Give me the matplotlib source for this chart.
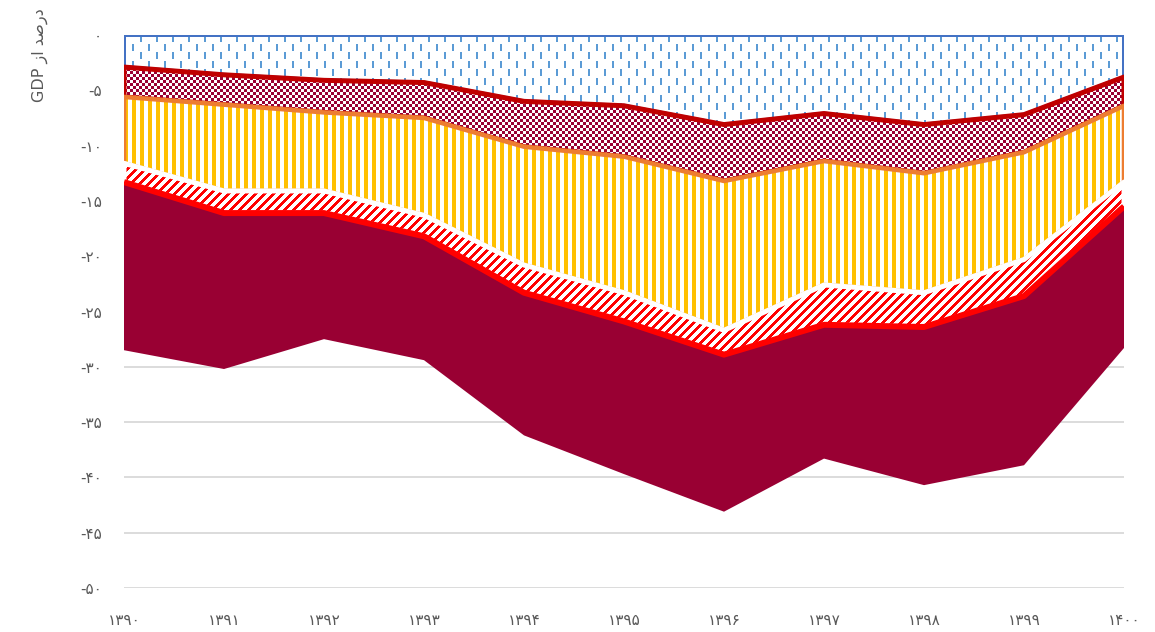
import numpy as np
import matplotlib
matplotlib.use("Agg")
import matplotlib.pyplot as plt

plt.rcParams['font.family'] = ['DejaVu Sans']

years = np.arange(1390, 1401)
year_labels = ['۱۳۹۰', '۱۳۹۱', '۱۳۹۲', '۱۳۹۳', '۱۳۹۴', '۱۳۹۵',
               '۱۳۹۶', '۱۳۹۷', '۱۳۹۸', '۱۳۹۹', '۱۴۰۰']
yticks = [0, -5, -10, -15, -20, -25, -30, -35, -40, -45, -50]
ytick_labels = ['۰', '-۵', '-۱۰', '-۱۵', '-۲۰', '-۲۵',
                '-۳۰', '-۳۵', '-۴۰', '-۴۵', '-۵۰']

# stacked series (share of GDP, negative), top layer first
s1 = [-2.9, -3.6, -4.1, -4.3, -6.0, -6.4, -8.1, -7.1, -8.1, -7.2, -3.8]
s2 = [-2.7, -2.7, -2.9, -3.2, -4.1, -4.6, -5.1, -4.3, -4.4, -3.4, -2.6]
s3 = [-6.0, -7.8, -7.1, -8.8, -10.7, -12.3, -13.5, -11.2, -10.8, -9.7, -6.9]
s4 = [-1.7, -2.0, -2.0, -1.9, -2.5, -2.6, -2.2, -3.6, -3.1, -3.3, -2.2]
s5 = [-15.2, -14.1, -11.4, -11.2, -12.9, -13.8, -14.2, -12.1, -14.3, -15.3, -12.8]

ylabel_text = 'GDP \u0632\u0627 \uFEAA\uFEBB\u0631\u062F'  # "درصد از GDP" in visual order

W, H = 1155, 632
fig = plt.figure(figsize=(W / 100, H / 100), dpi=100)
ax = fig.add_axes([124 / W, 44 / H, 1000 / W, 553 / H])
ax.set_xlim(1390, 1400)
ax.set_ylim(-50, 0)

# pixel textures like the excel pattern fills
AW, AH = 1000, 553
yy, xx = np.mgrid[0:AH, 0:AW]


def texture(mask, fg, bg='white'):
    img = np.ones((AH, AW, 4))
    img[:] = matplotlib.colors.to_rgba(bg)
    img[mask] = matplotlib.colors.to_rgba(fg)
    return img


dash_mask = (((xx % 16) < 2) & ((yy % 17) < 7)) | ((((xx - 8) % 16) < 2) & (((yy - 9) % 17) < 7))
check_mask = ((xx // 3) + (yy // 3)) % 2 == 0
vert_mask = (xx % 8) < 4
diag_mask = ((xx + yy) % 9) < 4

layers = [
    (s1, texture(dash_mask, '#5B9BD5'), '#4472C4', 4),
    (s2, texture(check_mask, '#990033'), '#C00000', 5),
    (s3, texture(vert_mask, '#FFC000'), '#ED7D31', 4.5),
    (s4, texture(diag_mask, '#FF0000'), 'white', 5),
]

top = np.zeros(len(years))
z = 2
for vals, img, ec, lw in layers:
    bottom = top + np.array(vals)
    coll = ax.fill_between(years, top, bottom, facecolor='none', edgecolor=ec,
                           linewidth=lw * 0.72, zorder=z + 1)
    im = ax.imshow(img, extent=(1390, 1400, -50, 0), origin='upper',
                   aspect='auto', interpolation='nearest', zorder=z)
    im.set_clip_path(coll.get_paths()[0], ax.transData)
    top = bottom
    z += 2

bottom = top + np.array(s5)
ax.fill_between(years, top, bottom, facecolor='#990033', edgecolor='none', zorder=z)
ax.plot(years, top, color='#FF0000', lw=4.3, zorder=z + 1, solid_capstyle='butt')

ax.set_yticks(yticks)
ax.set_yticklabels(ytick_labels)
ax.set_xticks(years)
ax.set_xticklabels(year_labels)
ax.tick_params(axis='y', length=0, pad=16, labelsize=11, labelcolor='#595959')
ax.tick_params(axis='x', length=0, pad=18, labelsize=11, labelcolor='#595959')
ax.yaxis.grid(True, color='#D9D9D9', lw=1.3)
ax.set_axisbelow(True)
for sp in ax.spines.values():
    sp.set_visible(False)

fig.text(40 / W, 1 - 55 / H, ylabel_text, rotation=90, ha='center', va='center',
         fontsize=11.5, color='#595959')

fig.savefig('out.png', dpi=100)
